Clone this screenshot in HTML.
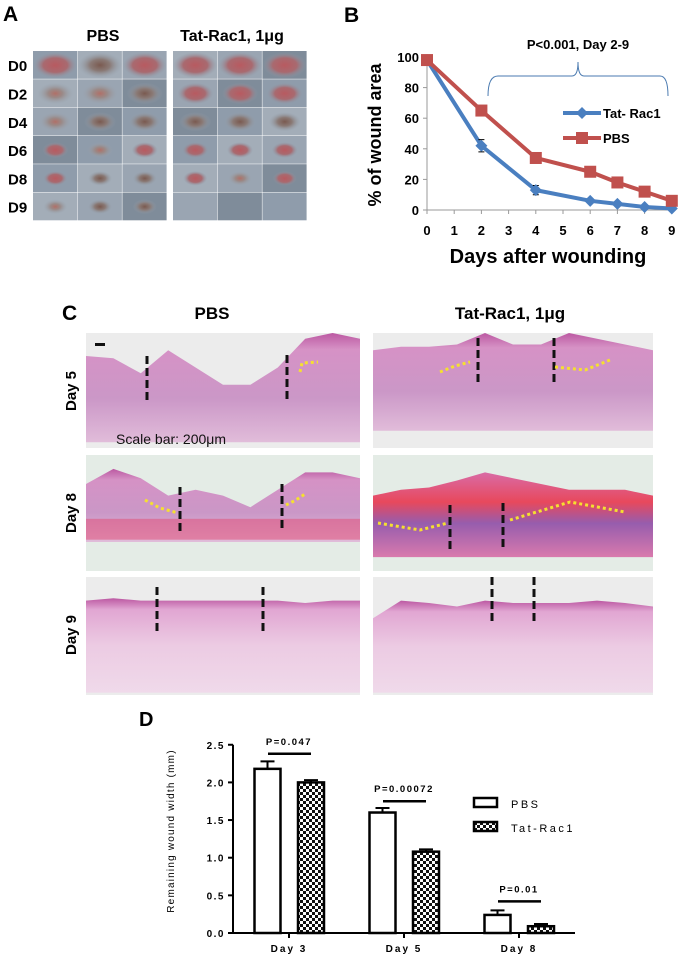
<!DOCTYPE html>
<html><head><meta charset="utf-8">
<style>
html,body{margin:0;padding:0;background:#fff;}
body{width:682px;height:958px;position:relative;overflow:hidden;font-family:"Liberation Sans",Arial,sans-serif;}
svg{position:absolute;left:0;top:0;}
</style></head>
<body>
<svg width="682" height="958" viewBox="0 0 682 958" xmlns="http://www.w3.org/2000/svg">
<defs>
<radialGradient id="wRed" cx="50%" cy="50%" r="50%"><stop offset="0" stop-color="#b85a60"/><stop offset="0.55" stop-color="#a86a70"/><stop offset="1" stop-color="#8e9aa8" stop-opacity="0"/></radialGradient>
<radialGradient id="wPale" cx="50%" cy="50%" r="50%"><stop offset="0" stop-color="#b07068"/><stop offset="0.4" stop-color="#9a8a88"/><stop offset="1" stop-color="#98a4b0" stop-opacity="0"/></radialGradient>
<radialGradient id="wDark" cx="50%" cy="50%" r="50%"><stop offset="0" stop-color="#7a5a50"/><stop offset="0.45" stop-color="#8a7a76"/><stop offset="1" stop-color="#95a0ac" stop-opacity="0"/></radialGradient>
<linearGradient id="tissue" x1="0" y1="0" x2="0" y2="1"><stop offset="0" stop-color="#b84c9c"/><stop offset="0.15" stop-color="#d48ac2"/><stop offset="0.6" stop-color="#c890c4"/><stop offset="1" stop-color="#e0b8d8"/></linearGradient>
<linearGradient id="tissue9" x1="0" y1="0" x2="0" y2="1"><stop offset="0" stop-color="#b84c9c"/><stop offset="0.12" stop-color="#e0a0d0"/><stop offset="0.5" stop-color="#ecc8e2"/><stop offset="1" stop-color="#f0d8ea"/></linearGradient>
<linearGradient id="tissueRed" x1="0" y1="0" x2="0" y2="1"><stop offset="0" stop-color="#d860a0"/><stop offset="0.35" stop-color="#e83a50"/><stop offset="0.6" stop-color="#9050a8"/><stop offset="1" stop-color="#d870a8"/></linearGradient>
<pattern id="checker" width="6" height="6" patternUnits="userSpaceOnUse"><rect width="6" height="6" fill="#fff"/><rect width="3" height="3" fill="#111"/><rect x="3" y="3" width="3" height="3" fill="#111"/></pattern>
</defs>

<!-- Panel A -->
<g>
<text x="3" y="21" font-size="21" font-weight="bold">A</text>
<text x="103" y="41" font-size="16" font-weight="bold" text-anchor="middle">PBS</text>
<text x="232" y="41" font-size="16" font-weight="bold" text-anchor="middle">Tat-Rac1, 1μg</text>
<g id="gridA"></g>
</g>

<!-- Panel B -->
<g>
<text x="344" y="22" font-size="21" font-weight="bold">B</text>
<text x="578" y="49" font-size="13" font-weight="bold" text-anchor="middle">P&lt;0.001, Day 2-9</text>
<path d="M488,96 Q488,76 498,76 L572,76 Q578,76 578,62 Q578,76 584,76 L660,76 Q668,76 668,96" fill="none" stroke="#4a7ab0" stroke-width="1"/>
<g id="chartB"></g>
<text transform="translate(381,135) rotate(-90)" font-size="18" font-weight="bold" text-anchor="middle">% of  wound area</text>
<text x="548" y="263" font-size="20" font-weight="bold" text-anchor="middle">Days after wounding</text>
<g>
<line x1="563" y1="113" x2="601" y2="113" stroke="#4a7fc0" stroke-width="4"/>
<path d="M582,107 L588,113 L582,119 L576,113 Z" fill="#4a7fc0"/>
<text x="603" y="118" font-size="13" font-weight="bold">Tat- Rac1</text>
</g>
<g>
<line x1="563" y1="138" x2="601" y2="138" stroke="#c0504d" stroke-width="4"/>
<rect x="576" y="132" width="12" height="12" fill="#c0504d"/>
<text x="603" y="143" font-size="13" font-weight="bold">PBS</text>
</g>
</g>

<!-- Panel C -->
<g>
<text x="62" y="320" font-size="21" font-weight="bold">C</text>
<text x="212" y="319" font-size="17" font-weight="bold" text-anchor="middle">PBS</text>
<text x="510" y="319" font-size="17" font-weight="bold" text-anchor="middle">Tat-Rac1, 1μg</text>
<text transform="translate(76,391) rotate(-90)" font-size="15" font-weight="bold" text-anchor="middle">Day 5</text>
<text transform="translate(76,513) rotate(-90)" font-size="15" font-weight="bold" text-anchor="middle">Day 8</text>
<text transform="translate(76,635) rotate(-90)" font-size="15" font-weight="bold" text-anchor="middle">Day 9</text>
<g id="histo"></g>
<rect x="95" y="343" width="10" height="3" fill="#111"/>
<text x="116" y="444" font-size="14" fill="#111">Scale bar: 200μm</text>
</g>

<!-- Panel D -->
<g>
<text x="139" y="726" font-size="20" font-weight="bold">D</text>
<text transform="translate(174,831) rotate(-90)" font-size="10" letter-spacing="1.2" text-anchor="middle">Remaining wound width (mm)</text>
<g id="chartD"></g>
<g>
<rect x="474" y="798" width="23" height="9" fill="#fff" stroke="#000" stroke-width="2.5"/>
<text x="511" y="808" font-size="11" letter-spacing="2.5">PBS</text>
</g>
<g>
<rect x="474" y="822" width="23" height="9" fill="url(#checker)" stroke="#000" stroke-width="2.5"/>
<text x="511" y="832" font-size="11" letter-spacing="2.5">Tat-Rac1</text>
</g>
</g>
</svg>

<script>
const NS='http://www.w3.org/2000/svg';
function mk(tag,attrs,parent){const e=document.createElementNS(NS,tag);for(const k in attrs)e.setAttribute(k,attrs[k]);parent.appendChild(e);return e;}

// ---------- Panel A photo grid ----------
const dayRowsA=['D0','D2','D4','D6','D8','D9'];
(function(){
  const g=document.getElementById('gridA');
  const x0=[33,173], cw=44.7, ch=28.3, y0=51;
  const woundSize=[0.8,0.6,0.5,0.35,0.3,0.3];
  const fills={0:['wRed','wDark','wRed'],1:['wPale','wPale','wDark'],2:['wPale','wDark','wDark'],3:['wRed','wPale','wRed'],4:['wRed','wDark','wDark'],5:['wPale','wDark','wDark']};
  const fillsT={0:['wRed','wRed','wRed'],1:['wRed','wRed','wRed'],2:['wDark','wDark','wDark'],3:['wRed','wRed','wRed'],4:['wRed','wPale','wRed'],5:[null,null,null]};
  dayRowsA.forEach((d,r)=>{
    const t=mk('text',{x:8,y:y0+r*ch+ch/2+6,'font-size':15,'font-weight':'bold'},g);t.textContent=d;
    
    
    [0,1].forEach(side=>{
      for(let c=0;c<3;c++){
        const x=x0[side]+c*cw, y=y0+r*ch;
        const shade=['#8f9cab','#a3adb8','#9aa5b2','#7f8c9a'][(r+c+side)%4];
        const cell=mk('rect',{x:x,y:y,width:cw-0.5,height:ch-0.5,fill:shade},g);
        
        
        const f=(side?fillsT:fills)[r][c];
        if(f){const s=woundSize[r];mk('ellipse',{cx:x+cw/2,cy:y+ch/2,rx:cw*0.45*s+6,ry:ch*0.4*s+4,fill:'url(#'+f+')'},g);}
      }
    });
  });
})();

// ---------- Panel B line chart ----------
const daysB=[0,2,4,6,7,8,9];
const tatB=[98,42,13,6,4,2,1];
const pbsB=[98,65,34,25,18,12,6];
const tatErrB=[2,4,3,1,1,1,1];
const pbsErrB=[2,3,1,1,1,1,1];
const xTicksB=[0,1,2,3,4,5,6,7,8,9];
const yTicksB=[0,20,40,60,80,100];
(function(){
  const g=document.getElementById('chartB');
  const xs=v=>427+v*27.2, ys=v=>210-v*1.53;
  const ax=mk('path',{d:`M${xs(0)},${ys(100)} L${xs(0)},${ys(0)} L${xs(9)+4},${ys(0)}`,fill:'none',stroke:'#999','stroke-width':1},g);
  
  
  yTicksB.forEach(v=>{mk('line',{x1:xs(0)-4,x2:xs(0),y1:ys(v),y2:ys(v),stroke:'#999'},g);
    const t=mk('text',{x:xs(0)-8,y:ys(v)+5,'font-size':13,'font-weight':'bold','text-anchor':'end'},g);t.textContent=v;
    });
  xTicksB.forEach(v=>{mk('line',{x1:xs(v),x2:xs(v),y1:ys(0),y2:ys(0)+4,stroke:'#999'},g);
    const t=mk('text',{x:xs(v),y:235,'font-size':13,'font-weight':'bold','text-anchor':'middle'},g);t.textContent=v;
    });
  function series(vals,errs,color,marker,name){
    const l=mk('polyline',{points:daysB.map((d,i)=>xs(d)+','+ys(vals[i])).join(' '),fill:'none',stroke:color,'stroke-width':4,'stroke-linejoin':'round'},g);
    
    daysB.forEach((d,i)=>{
      const x=xs(d),y=ys(vals[i]),e=errs[i]*1.53;
      mk('path',{d:`M${x},${y-e} L${x},${y+e} M${x-3},${y-e} L${x+3},${y-e} M${x-3},${y+e} L${x+3},${y+e}`,stroke:'#000','stroke-width':1},g);
      let m;
      if(marker==='sq') m=mk('rect',{x:x-6,y:y-6,width:12,height:12,fill:color},g);
      else m=mk('path',{d:`M${x},${y-6} L${x+6},${y} L${x},${y+6} L${x-6},${y} Z`,fill:color},g);
      
    });
  }
  series(tatB,tatErrB,'#4a7fc0','dia','tat-rac1');
  series(pbsB,pbsErrB,'#c0504d','sq','pbs');
})();

// ---------- Panel C histology ----------
(function(){
  const g=document.getElementById('histo');
  const cols=[[86,360],[373,653]];
  const rows=[[333,448],[455,571],[577,695]];
  // tissue top profile (fraction of height) per panel, and bottom fraction
  const tops=[[[0.2,0.22,0.35,0.15,0.3,0.45,0.45,0.3,0.05,0.0,0.05],[0.15,0.12,0.12,0.1,0.0,0.1,0.1,0.0,0.05,0.1,0.15]],
              [[0.25,0.12,0.2,0.35,0.3,0.35,0.45,0.3,0.15,0.15,0.2],[0.35,0.3,0.28,0.22,0.15,0.2,0.25,0.3,0.3,0.3,0.35]],
              [[0.2,0.18,0.2,0.2,0.2,0.2,0.2,0.2,0.22,0.2,0.2],[0.35,0.2,0.22,0.25,0.2,0.22,0.22,0.22,0.2,0.22,0.25]]];
  const bots=[[0.95,0.85],[0.75,0.88],[0.98,0.98]];
  rows.forEach((R,ri)=>cols.forEach((C,ci)=>{
    const [x1,x2]=C,[y1,y2]=R,w=x2-x1,h=y2-y1;
    const bg=mk('rect',{x:x1,y:y1,width:w,height:h,fill:ri===1?'#e4ece6':'#ececec'},g);
    
    
    const tp=tops[ri][ci];
    const pts=tp.map((f,k)=>(x1+w*k/10)+','+(y1+h*f));
    const fill=(ri===1&&ci===1)?'url(#tissueRed)':(ri===2?'url(#tissue9)':'url(#tissue)');
    mk('path',{d:'M'+pts.join(' L')+` L${x2},${y1+h*bots[ri][ci]} L${x1},${y1+h*bots[ri][ci]} Z`,fill:fill,opacity:0.92},g);
    if(ri===1&&ci===0) mk('rect',{x:x1,y:y1+h*0.55,width:w,height:h*0.18,fill:'#e0507a',opacity:0.55},g);
  }));
  // dashed wound-edge markers (absolute decoration positions)
  const dl=[[147,356,400],[287,355,400],[478,338,385],[554,338,385],[180,487,533],[282,484,530],[450,505,550],[503,503,550],[157,587,633],[263,587,633],[492,577,623],[534,577,623]];
  dl.forEach(d=>mk('line',{x1:d[0],x2:d[0],y1:d[1],y2:d[2],stroke:'#111','stroke-width':3,'stroke-dasharray':'8,4'},g));
  // yellow dotted epithelium tongues
  const yd=[[300,372,302,363,318,362],[440,372,455,366,470,362],[555,367,585,370,610,360],[145,500,160,508,178,513],[286,505,296,500,305,494],[378,523,420,530,448,523],[510,520,570,502,625,512]];
  yd.forEach(s=>mk('polyline',{points:`${s[0]},${s[1]} ${s[2]},${s[3]} ${s[4]},${s[5]}`,fill:'none',stroke:'#f5e030','stroke-width':3,'stroke-dasharray':'3,3'},g));
})();

// ---------- Panel D bar chart ----------
const groupsD=['Day 3','Day 5','Day 8'];
const pbsD=[2.18,1.6,0.24];
const tatD=[2.0,1.08,0.09];
const pbsErrD=[0.1,0.06,0.06];
const tatErrD=[0.03,0.03,0.03];
const pLabelsD=['P=0.047','P=0.00072','P=0.01'];
const pLineD=[2.38,1.75,0.42];
const yTicksD=[0,0.5,1,1.5,2,2.5];
(function(){
  const g=document.getElementById('chartD');
  const ys=v=>933-v*75.3, gx=i=>289+i*115;
  mk('line',{x1:233,x2:233,y1:ys(2.5),y2:ys(0),stroke:'#000','stroke-width':2},g);
  mk('line',{x1:233,x2:575,y1:ys(0),y2:ys(0),stroke:'#000','stroke-width':2},g);
  yTicksD.forEach(v=>{mk('line',{x1:228,x2:233,y1:ys(v),y2:ys(v),stroke:'#000','stroke-width':2},g);
    const t=mk('text',{x:225,y:ys(v)+4,'font-size':10,'font-weight':'bold','text-anchor':'end','letter-spacing':1.5},g);t.textContent=v.toFixed(1);
    });
  groupsD.forEach((name,i)=>{
    const c=gx(i);
    mk('line',{x1:c,x2:c,y1:ys(0),y2:ys(0)+5,stroke:'#000','stroke-width':2},g);
    const t=mk('text',{x:c,y:952,'font-size':10,'font-weight':'bold','text-anchor':'middle','letter-spacing':2},g);t.textContent=name;
    
    [[pbsD,pbsErrD,-21.5,'#fff','pbs'],[tatD,tatErrD,22,'url(#checker)','tat-rac1']].forEach(([vals,errs,off,fill,nm])=>{
      const bx=c+off, v=vals[i], e=errs[i];
      mk('path',{d:`M${bx},${ys(v)} L${bx},${ys(v+e)} M${bx-7},${ys(v+e)} L${bx+7},${ys(v+e)}`,stroke:'#000','stroke-width':2},g);
      const b=mk('rect',{x:bx-13,y:ys(v),width:26,height:ys(0)-ys(v),fill:fill,stroke:'#000','stroke-width':2.5},g);
      
      
    });
    mk('line',{x1:c-21,x2:c+22,y1:ys(pLineD[i]),y2:ys(pLineD[i]),stroke:'#000','stroke-width':2.5},g);
    const p=mk('text',{x:c,y:ys(pLineD[i])-9,'font-size':9.5,'font-weight':'bold','text-anchor':'middle','letter-spacing':1.5},g);p.textContent=pLabelsD[i];
    
  });
})();
</script>
</body></html>
